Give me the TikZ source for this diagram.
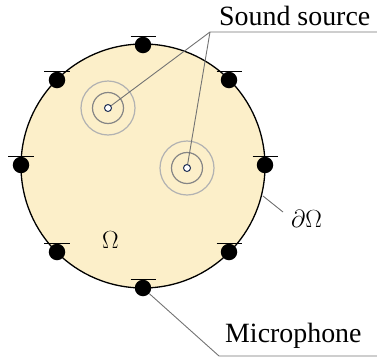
\documentclass[tikz,border=0pt]{standalone}
\usepackage{fontspec}
\setmainfont{Liberation Serif}
\begin{document}
\begin{tikzpicture}[x=1bp,y=-1bp,
  mic/.style={circle,fill=black,inner sep=0pt,minimum size=16.5bp},
  src/.style={circle,draw=srcblue,fill=white,line width=1bp,inner sep=0pt,minimum size=7bp},
  ringin/.style={draw=gray!95,line width=1.2bp},
  ringout/.style={draw=gray!60,line width=1.2bp},
  leader/.style={draw=gray!110,line width=0.9bp},
  lbl/.style={inner sep=0pt,font=\fontsize{28}{30}\selectfont},
  bar/.style={line width=1.2bp}]
\definecolor{srcblue}{HTML}{1F2F55}
\definecolor{domain}{HTML}{FCEFC9}
\useasboundingbox (0,0) rectangle (377,360);
\draw[fill=domain,line width=1.3bp] (143,166) circle[radius=122];
% sources
\foreach \p/\n in {{(108,108)}/s1,{(187,168)}/s2}{
  \draw[ringout] \p circle[radius=27];
  \draw[ringin] \p circle[radius=15.5];
  \node[src] (\n) at \p {};
}
% microphones
\foreach \x/\y [count=\i] in {143/45,229/80,265/165,229/252,143/288,57/252,21/165,57/80}{
  \node[mic] (m\i) at (\x,\y) {};
  \draw[bar] ([xshift=-12.5bp,yshift=8.5bp]m\i.center) -- ([xshift=12.5bp,yshift=8.5bp]m\i.center);
}
% labels
\node[lbl,anchor=base west] (tsrc) at (219,25) {Sound source};
\node[lbl,anchor=base west] (tmic) at (225,342) {Microphone};
\node[lbl,anchor=base west,font=\fontsize{30}{32}\selectfont] (tbd) at (291,227) {$\partial\Omega$};
\node[lbl,anchor=base west,font=\fontsize{30}{32}\selectfont] (tom) at (102,248) {$\Omega$};
% leaders
\coordinate (cs) at (210,32);
\coordinate (cse) at (377,32);
\coordinate (cm) at (219,356);
\coordinate (cme) at (377,356);
\coordinate (cb1) at (263,196);
\coordinate (cb2) at (283,212);
\draw[leader] (cse) -- (cs) -- (s1);
\draw[leader] (cs) -- (s2);
\draw[leader] (m5) -- (cm) -- (cme);
\draw[leader] (cb1) -- (cb2);
\end{tikzpicture}
\end{document}
